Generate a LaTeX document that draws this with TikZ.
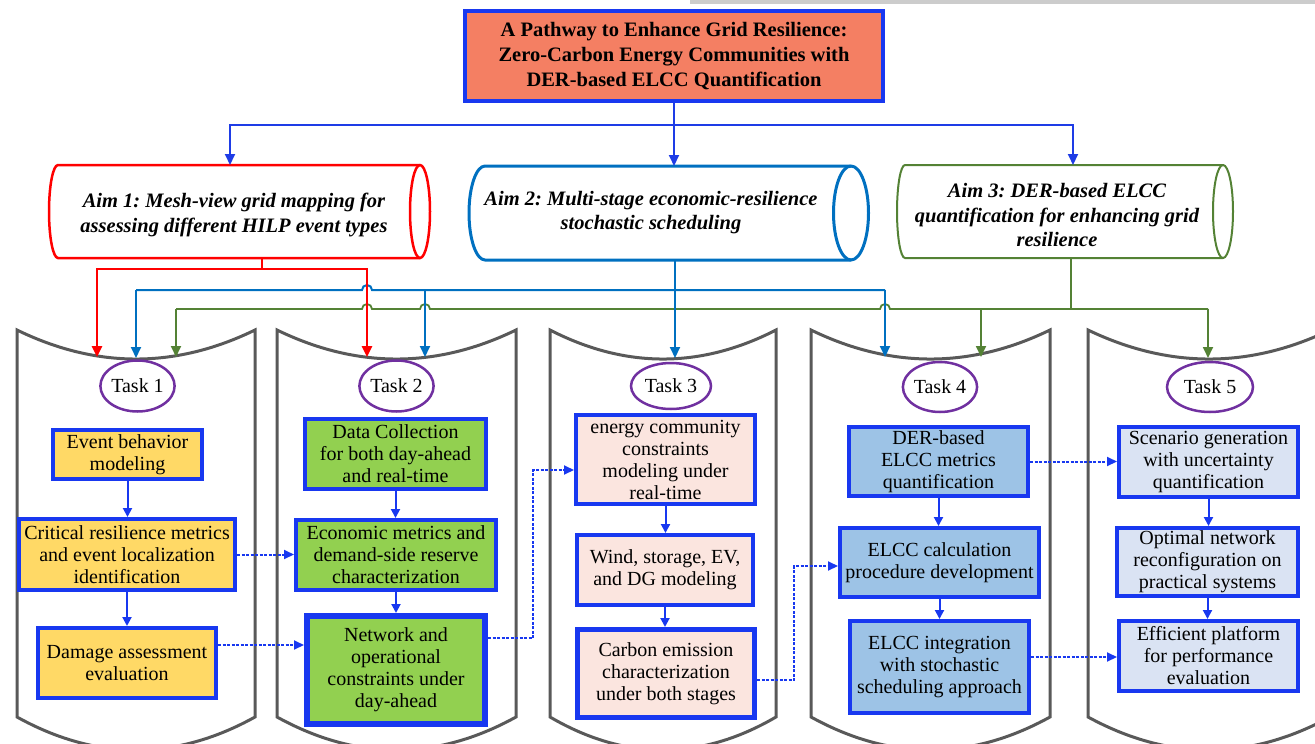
\documentclass[tikz,border=0pt]{standalone}
\usepackage{fontspec}
\setmainfont{Liberation Serif}
\usetikzlibrary{arrows.meta,shapes.geometric,calc}
\definecolor{titlefill}{RGB}{244,127,99}
\definecolor{bbox}{RGB}{24,56,240}
\definecolor{goldf}{RGB}{255,217,102}
\definecolor{greenf}{RGB}{146,208,80}
\definecolor{pinkf}{RGB}{251,229,223}
\definecolor{bluef}{RGB}{157,195,230}
\definecolor{paleblf}{RGB}{218,227,243}
\definecolor{purp}{RGB}{112,48,160}
\definecolor{colgrey}{RGB}{89,89,89}
\definecolor{redc}{RGB}{255,0,0}
\definecolor{aimblue}{RGB}{0,112,192}
\definecolor{aimgreen}{RGB}{84,130,53}
\definecolor{tblue}{RGB}{30,60,230}
\frenchspacing
\begin{document}
\begin{tikzpicture}[x=1pt,y=-1pt,
  taskbox/.style={draw=bbox, line width=4pt, align=center, inner sep=1pt, font=\fontsize{20}{22}\selectfont},
  titlebox/.style={draw=bbox, line width=4pt, fill=titlefill, align=center, inner sep=1pt, font=\fontsize{20.5}{25}\selectfont\bfseries},
  aimtext/.style={align=center, inner sep=0pt, font=\fontsize{20.5}{24.5}\selectfont\bfseries\itshape},
  taskell/.style={ellipse, draw=purp, line width=2.5pt, inner sep=0pt, font=\fontsize{20}{22}\selectfont},
  colline/.style={draw=colgrey, line width=3pt, line join=miter},
  tipbig/.style={-{Triangle[length=11pt,width=10pt]}},
  tline/.style={draw=tblue, line width=2pt},
  redline/.style={draw=redc, line width=2.5pt},
  a2line/.style={draw=aimblue, line width=2pt},
  a3line/.style={draw=aimgreen, line width=1.8pt},
  boxarr/.style={draw=bbox, line width=2pt, -{Triangle[length=9pt,width=9pt]}},
  dotarr/.style={draw=bbox, line width=2pt, dash pattern=on 3pt off 1.5pt, -{Triangle[length=10pt,width=9pt]}}
]
\useasboundingbox (0,0) rectangle (1315,744);
\clip (0,0) rectangle (1315,744);
\fill[gray!40] (690,0) rectangle (1315,3.5);

% ---------- task columns ----------
\draw[colline] (17,330) -- (17,717) .. controls (96.33,761) and (175.67,761) .. (255,717) -- (255,330) .. controls (175.67,368.7) and (96.33,368.7) .. (17,330) -- cycle;
\draw[colline] (277,330) -- (277,717) .. controls (356.67,761) and (436.33,761) .. (516,717) -- (516,330) .. controls (436.33,368.7) and (356.67,368.7) .. (277,330) -- cycle;
\draw[colline] (550,330) -- (550,717) .. controls (625.33,761) and (700.67,761) .. (776,717) -- (776,330) .. controls (700.67,368.7) and (625.33,368.7) .. (550,330) -- cycle;
\draw[colline] (811,330) -- (811,717) .. controls (890.67,761) and (970.33,761) .. (1050,717) -- (1050,330) .. controls (970.33,368.7) and (890.67,368.7) .. (811,330) -- cycle;
\draw[colline] (1088,330) -- (1088,717) .. controls (1168.67,761) and (1249.33,761) .. (1330,717) -- (1330,330) .. controls (1249.33,368.7) and (1168.67,368.7) .. (1088,330) -- cycle;

% ---------- title ----------
\node[titlebox, minimum width=418pt, minimum height=90pt] (title) at (674,56)
  {A Pathway to Enhance Grid Resilience:\\Zero-Carbon Energy Communities with\\DER-based ELCC Quantification};

% ---------- aims ----------
\draw[draw=redc, line width=2.5pt] (58,165) -- (420,165) arc[start angle=90,end angle=-90,x radius=10pt,y radius=46.5pt] -- (58,258) arc[start angle=270,end angle=90,x radius=9pt,y radius=46.5pt] -- cycle;
\draw[draw=redc, line width=2.5pt] (420,165) arc[start angle=90,end angle=270,x radius=10pt,y radius=46.5pt];
\node[aimtext] (aim1) at (234,215) {Aim 1: Mesh-view grid mapping for\\assessing different HILP event types};

\draw[draw=aimblue, line width=3pt] (485,166) -- (851,166) arc[start angle=90,end angle=-90,x radius=17.5pt,y radius=47pt] -- (485,260) arc[start angle=270,end angle=90,x radius=16pt,y radius=47pt] -- cycle;
\draw[draw=aimblue, line width=3pt] (851,166) arc[start angle=90,end angle=270,x radius=17.5pt,y radius=47pt];
\node[aimtext] (aim2) at (651,212.5) {Aim 2: Multi-stage economic-resilience\\stochastic scheduling};

\draw[draw=aimgreen, line width=2pt] (905,165) -- (1223,165) arc[start angle=90,end angle=-90,x radius=10pt,y radius=46.5pt] -- (905,258) arc[start angle=270,end angle=90,x radius=8pt,y radius=46.5pt] -- cycle;
\draw[draw=aimgreen, line width=2pt] (1223,165) arc[start angle=90,end angle=270,x radius=10pt,y radius=46.5pt];
\node[aimtext] (aim3) at (1057,215) {Aim 3: DER-based ELCC\\quantification for enhancing grid\\resilience};

% ---------- coordinates ----------
\coordinate (jt) at (674,125);
\coordinate (a1in) at (230,165);
\coordinate (a2in) at (674,166);
\coordinate (a3in) at (1073,165);
\coordinate (a1out) at (262,258);
\coordinate (j1) at (262,269);
\coordinate (a2out) at (675,260);
\coordinate (j2L) at (136,290);
\coordinate (j2m) at (425,290);
\coordinate (j2R) at (885,290);
\coordinate (a3out) at (1071,258);
\coordinate (j3) at (1071,309);
\coordinate (j3L) at (176,309);
\coordinate (j3m) at (981,309);
\coordinate (j3R) at (1208,309);
\coordinate (t1in1) at (97,357);
\coordinate (t1in2) at (136,358);
\coordinate (t1in3) at (176,357);
\coordinate (t2in1) at (367,357);
\coordinate (t2in2) at (425,357);
\coordinate (t3in) at (675,358);
\coordinate (t4in1) at (885,357);
\coordinate (t4in2) at (981,357);
\coordinate (t5in) at (1208,358);

% ---------- title connectors ----------
\draw[tline] (title.south) -- (jt);
\draw[tline,tipbig] (jt) -| (a1in);
\draw[tline,tipbig] (jt) -- (a2in);
\draw[tline,tipbig] (jt) -| (a3in);

% ---------- aim 3 (green) ----------
\draw[a3line] (a3out) -- (j3);
\draw[a3line] (j3L) -- (362,309) arc[start angle=180,end angle=0,radius=5pt] -- (420,309) arc[start angle=180,end angle=0,radius=5pt] -- (880,309) arc[start angle=180,end angle=0,radius=5pt] -- (j3R);
\draw[a3line,tipbig] (j3L) -- (t1in3);
\draw[a3line,tipbig] (j3m) -- (t4in2);
\draw[a3line,tipbig] (j3R) -- (t5in);

% ---------- aim 2 (blue) ----------
\draw[a2line] (j2L) -- (362,290) arc[start angle=180,end angle=0,radius=5pt] -- (j2R);
\draw[a2line,tipbig] (j2L) -- (t1in2);
\draw[a2line,tipbig] (j2m) -- (t2in2);
\draw[a2line,tipbig] (j2R) -- (t4in1);
\draw[a2line,tipbig] (a2out) -- (t3in);

% ---------- aim 1 (red) ----------
\draw[redline] (a1out) -- (j1);
\draw[redline,tipbig] (j1) -| (t1in1);
\draw[redline,tipbig] (j1) -| (t2in1);

% ---------- task ellipses ----------
\node[taskell, minimum width=72pt, minimum height=51pt] (t1) at (137.5,386) {Task 1};
\node[taskell, minimum width=71pt, minimum height=51pt] (t2) at (396.5,386) {Task 2};
\node[taskell, minimum width=80pt, minimum height=46pt] (t3) at (671,386) {Task 3};
\node[taskell, minimum width=72pt, minimum height=50pt] (t4) at (940,387) {Task 4};
\node[taskell, minimum width=86pt, minimum height=50pt] (t5) at (1210,387) {Task 5};

% ---------- task boxes ----------
\node[taskbox, fill=goldf, minimum width=149pt, minimum height=49pt] (b11) at (127.5,454.5) {Event behavior\\modeling};
\node[taskbox, fill=goldf, minimum width=216pt, minimum height=71pt] (b12) at (127,554.5) {Critical resilience metrics\\and event localization\\identification};
\node[taskbox, fill=goldf, minimum width=178pt, minimum height=70pt] (b13) at (127,663) {Damage assessment\\evaluation};

\node[taskbox, fill=greenf, minimum width=181pt, minimum height=70pt] (b21) at (395.5,454) {Data Collection\\for both day-ahead\\and real-time};
\node[taskbox, fill=greenf, minimum width=200pt, minimum height=70pt] (b22) at (396,555) {Economic metrics and\\demand-side reserve\\characterization};
\node[taskbox, fill=greenf, line width=6pt, minimum width=178pt, minimum height=108pt] (b23) at (396,670) {Network and\\operational\\constraints under\\day-ahead};

\node[taskbox, fill=pinkf, minimum width=179pt, minimum height=89pt] (b31) at (665.5,459.5) {energy community\\constraints\\modeling under\\real-time};
\node[taskbox, fill=pinkf, minimum width=176pt, minimum height=70pt] (b32) at (665,570) {Wind, storage, EV,\\and DG modeling};
\node[taskbox, fill=pinkf, line width=5pt, minimum width=177pt, minimum height=88pt] (b33) at (666,673.5) {Carbon emission\\characterization\\under both stages};

\node[taskbox, fill=bluef, minimum width=179pt, minimum height=69pt] (b41) at (938.5,461.5) {DER-based\\ELCC metrics\\quantification};
\node[taskbox, fill=bluef, minimum width=199pt, minimum height=69pt] (b42) at (939.5,562.5) {ELCC calculation\\procedure development};
\node[taskbox, fill=bluef, minimum width=179pt, minimum height=92pt] (b43) at (939.5,667) {ELCC integration\\with stochastic\\scheduling approach};

\node[taskbox, fill=paleblf, minimum width=179pt, minimum height=70pt] (b51) at (1208.5,462) {Scenario generation\\with uncertainty\\quantification};
\node[taskbox, fill=paleblf, minimum width=181pt, minimum height=68pt] (b52) at (1207.5,562) {Optimal network\\reconfiguration on\\practical systems};
\node[taskbox, fill=paleblf, minimum width=179pt, minimum height=70pt] (b53) at (1208.5,656) {Efficient platform\\for performance\\evaluation};

% ---------- in-column arrows ----------
\draw[boxarr] (b11.south) -- (b11.south |- b12.north);
\draw[boxarr] (b12.south) -- (b12.south |- b13.north);
\draw[boxarr] (b21.south) -- (b21.south |- b22.north);
\draw[boxarr] (b22.south) -- (b22.south |- b23.north);
\draw[boxarr] (b31.south) -- (b31.south |- b32.north);
\draw[boxarr] (b32.south) -- (b32.south |- b33.north);
\draw[boxarr] (b41.south) -- (b41.south |- b42.north);
\draw[boxarr] (b42.south) -- (b42.south |- b43.north);
\draw[boxarr] (b51.south) -- (b51.south |- b52.north);
\draw[boxarr] (b52.south) -- (b52.south |- b53.north);

% ---------- dotted cross links ----------
\coordinate (h645) at (0,645);
\coordinate (h638) at (0,638);
\coordinate (h470) at (0,470);
\coordinate (h680) at (0,680);
\coordinate (h566) at (0,566);
\coordinate (h657) at (0,657);
\coordinate (v533) at (533,0);
\coordinate (v794) at (794,0);
\draw[dotarr] (b12.east) -- (b12.east -| b22.west);
\draw[dotarr] (b13.east |- h645) -- (b23.west |- h645);
\draw[dotarr] (b23.east |- h638) -- (v533 |- h638) -- (v533 |- h470) -- (b31.west |- h470);
\draw[dotarr] (b33.east |- h680) -- (v794 |- h680) -- (v794 |- h566) -- (b42.west |- h566);
\draw[dotarr] (b41.east) -- (b41.east -| b51.west);
\draw[dotarr] (b43.east |- h657) -- (b53.west |- h657);
\end{tikzpicture}
\end{document}
